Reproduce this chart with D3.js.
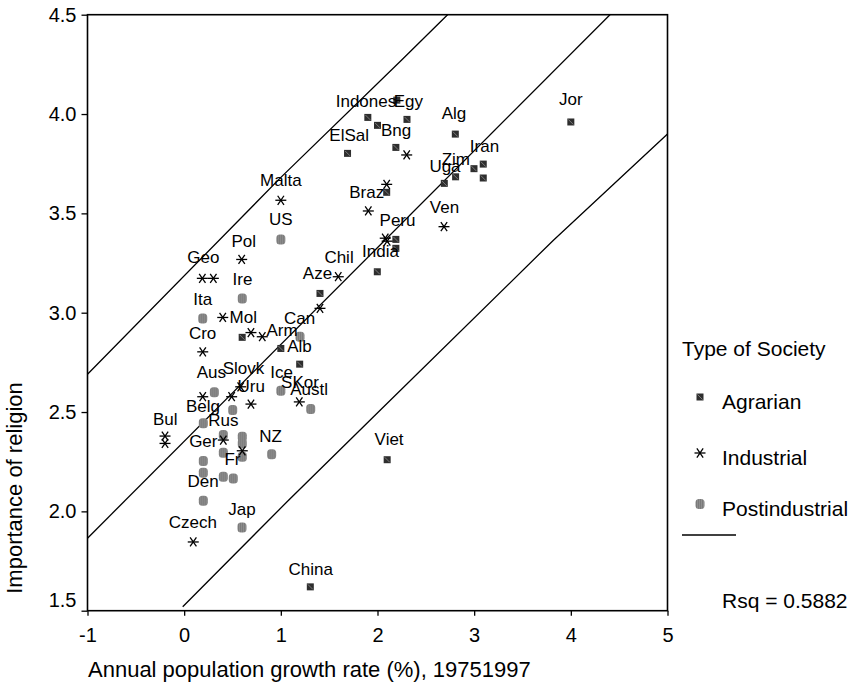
<!DOCTYPE html>
<html>
<head>
<meta charset="utf-8">
<script src="https://cdn.jsdelivr.net/npm/d3@7"></script>
<style>
  body { margin: 0; background: #fff; }
  text { font-family: "Liberation Sans", Arial, Helvetica, sans-serif; fill: #000; }
  .domain { display: none; }
</style>
</head>
<body>
<script>
// scatter of religion vs population growth, with fit line and 95% bands

// data: [growth %, importance]
var agrarian = [
  [1.90, 3.983], [2.00, 3.943], [2.305, 3.973], [2.20, 4.07], [2.19, 3.832],
  [1.69, 3.802], [2.805, 3.899], [3.094, 3.748], [3.094, 3.678], [2.998, 3.725],
  [2.808, 3.684], [2.691, 3.651], [2.095, 3.606], [2.19, 3.369], [2.19, 3.324],
  [4.00, 3.96], [1.405, 3.097], [1.998, 3.206], [0.60, 2.876], [1.00, 2.820],
  [1.195, 2.741], [1.305, 1.62], [2.10, 2.26]
];
var industrial = [
  [2.302, 3.794], [2.095, 3.646], [1.905, 3.512], [2.688, 3.433], [2.10, 3.36],
  [2.08, 3.375], [1.00, 3.566], [0.595, 3.268], [0.188, 3.173], [0.302, 3.173],
  [0.399, 2.976], [0.691, 2.90], [0.808, 2.879], [1.405, 3.022], [1.594, 3.181],
  [0.192, 2.803], [0.585, 2.627], [0.192, 2.577], [0.491, 2.577], [0.691, 2.540],
  [1.191, 2.551], [-0.198, 2.379], [-0.198, 2.342], [0.405, 2.359], [0.601, 2.305],
  [0.094, 1.846]
];
var postindustrial = [
  [1.00, 3.369], [0.601, 3.072], [0.192, 2.971], [1.198, 2.879], [0.312, 2.599],
  [0.502, 2.51], [1.00, 2.607], [1.309, 2.515], [0.198, 2.443], [0.405, 2.384],
  [0.601, 2.375], [0.601, 2.342], [0.601, 2.275], [0.405, 2.295], [0.198, 2.254],
  [0.905, 2.288], [0.198, 2.194], [0.405, 2.174], [0.508, 2.166], [0.198, 2.053],
  [0.598, 1.919]
];

// country labels: [text, x, y of baseline]
var labels = [
  ["Indones", 1.881, 4.037], ["Egy", 2.319, 4.037], ["Bng", 2.193, 3.889],
  ["ElSal", 1.707, 3.864], ["Alg", 2.791, 3.973], ["Iran", 3.107, 3.81],
  ["Zim", 2.81, 3.743], ["Uga", 2.698, 3.71], ["Jor", 4.0, 4.045],
  ["Malta", 1.0, 3.64], ["Braz", 1.888, 3.575], ["Ven", 2.693, 3.503],
  ["Peru", 2.207, 3.438], ["US", 1.0, 3.44], ["Pol", 0.617, 3.332],
  ["India", 2.031, 3.278], ["Chil", 1.602, 3.248], ["Geo", 0.198, 3.248],
  ["Aze", 1.379, 3.169], ["Ire", 0.603, 3.139], ["Ita", 0.193, 3.038],
  ["Mol", 0.612, 2.949], ["Can", 1.195, 2.943], ["Arm", 1.012, 2.882],
  ["Cro", 0.191, 2.866], ["Alb", 1.193, 2.803], ["Aus", 0.281, 2.672],
  ["Slovk", 0.614, 2.689], ["Ice", 1.009, 2.672], ["SKor", 1.198, 2.619],
  ["Uru", 0.693, 2.602], ["Austl", 1.293, 2.585], ["Belg", 0.195, 2.501],
  ["Bul", -0.195, 2.434], ["Rus", 0.405, 2.429], ["NZ", 0.893, 2.35],
  ["Ger", 0.198, 2.322], ["Fr", 0.5, 2.233], ["Viet", 2.12, 2.333],
  ["Den", 0.195, 2.123], ["Jap", 0.598, 1.981], ["Czech", 0.089, 1.914],
  ["China", 1.31, 1.679]
];

// fit line and prediction bands, read as polylines
var fitLine = [[-1, 1.865], [4.405, 4.5]];
var upperBand = [[-1, 2.69], [0.99, 3.676], [2.25, 4.272], [2.725, 4.5]];
var lowerBand = [[-0.015, 1.52], [1.08, 2.056], [2.03, 2.51], [3.82, 3.365], [5, 3.899]];

var xTicks = [-1, 0, 1, 2, 3, 4, 5];
var yTicks = [1.5, 2.0, 2.5, 3.0, 3.5, 4.0, 4.5];
var legendNames = ["Agrarian", "Industrial", "Postindustrial"];
var rsqText = "Rsq = 0.5882";

var width = 858, height = 686;

var svg = d3.select("body").append("svg")
    .attr("width", width)
    .attr("height", height);

var defs = svg.append("defs");
var stripes = defs.append("pattern")
    .attr("id", "stripes")
    .attr("patternUnits", "userSpaceOnUse")
    .attr("width", 2).attr("height", 4);
stripes.append("rect").attr("width", 2).attr("height", 4).attr("fill", "#8e8e8e");
stripes.append("rect").attr("width", 1).attr("height", 4).attr("fill", "#7a7a7a");

var x = d3.scaleLinear().domain([-1, 5]).range([87.5, 667.5]);
var y = d3.scaleLinear().domain([1.5, 4.5]).range([610.7, 14.7]);

var plot = svg.append("g");

// clip so band lines stop at the frame
defs.append("clipPath").attr("id", "clip")
  .append("rect")
    .attr("x", x(-1)).attr("y", y(4.5))
    .attr("width", x(5) - x(-1)).attr("height", y(1.5) - y(4.5));

//axes
var xAxis = svg.append("g")
    .attr("transform", "translate(0," + y(1.5) + ")")
    .call(d3.axisBottom(x).tickValues(xTicks).tickSize(5).tickPadding(12).tickFormat(d3.format("d")));
var yAxis = svg.append("g")
    .attr("transform", "translate(" + x(-1) + ",0)")
    .call(d3.axisLeft(y).tickValues(yTicks).tickSize(6).tickPadding(5).tickFormat(d3.format(".1f")));

svg.selectAll(".tick line").attr("stroke", "#000").attr("stroke-width", 1.3);
svg.selectAll(".tick text").style("font-size", "20px").attr("fill", "#000");
xAxis.selectAll(".tick text").text(function(d){ return d < 0 ? "-" + Math.abs(d) : d; });
// bottom y label sits a bit higher in the original
yAxis.selectAll(".tick text").filter(function(d){ return d === 1.5; }).attr("dy", "-0.2em");

// frame
svg.append("rect")
    .attr("x", x(-1)).attr("y", y(4.5))
    .attr("width", x(5) - x(-1)).attr("height", y(1.5) - y(4.5))
    .attr("fill", "none").attr("stroke", "#000").attr("stroke-width", 1.6);

var line = d3.line()
    .x(function(d){ return x(d[0]); })
    .y(function(d){ return y(d[1]); });

var lineG = plot.append("g").attr("clip-path", "url(#clip)");
[fitLine, upperBand, lowerBand].forEach(function(pts){
    lineG.append("path")
        .datum(pts)
        .attr("d", line)
        .attr("fill", "none")
        .attr("stroke", "#000")
        .attr("stroke-width", 1.3);
});

// markers
function drawSquare(g){
    g.append("rect").attr("x", -3.5).attr("y", -3.5).attr("width", 7).attr("height", 7)
        .attr("fill", "#2e2e2e");
    g.append("line").attr("x1", -2.5).attr("y1", -2.5).attr("x2", 2.5).attr("y2", 2.5)
        .attr("stroke", "#7a7a7a").attr("stroke-width", 1);
}
function drawStar(g){
    var r = 5.5;
    var angles = [0, 55, 125];
    angles.forEach(function(a){
        var rad = a * Math.PI / 180;
        g.append("line")
            .attr("x1", -r * Math.cos(rad)).attr("y1", -r * Math.sin(rad))
            .attr("x2", r * Math.cos(rad)).attr("y2", r * Math.sin(rad))
            .attr("stroke", "#000").attr("stroke-width", 1.3);
    });
}
function drawBlob(g){
    g.append("rect").attr("x", -4.5).attr("y", -5).attr("width", 9).attr("height", 10)
        .attr("rx", 3.5).attr("ry", 3.5)
        .attr("fill", "url(#stripes)");
}

function addSeries(data, drawFn, cls){
    plot.selectAll("." + cls)
        .data(data)
        .enter()
        .append("g")
        .attr("class", cls)
        .attr("transform", function(d){ return "translate(" + x(d[0]) + "," + y(d[1]) + ")"; })
        .each(function(){ drawFn(d3.select(this)); });
}
addSeries(postindustrial, drawBlob, "post");
addSeries(agrarian, drawSquare, "agr");
addSeries(industrial, drawStar, "ind");

// country labels
plot.selectAll(".lab")
    .data(labels)
    .enter()
    .append("text")
    .attr("class", "lab")
    .attr("x", function(d){ return x(d[1]); })
    .attr("y", function(d){ return y(d[2]); })
    .attr("text-anchor", "middle")
    .style("font-size", "17px")
    .text(function(d){ return d[0]; });

// axis titles
svg.append("text")
    .attr("x", 88).attr("y", 677)
    .style("font-size", "22px")
    .text("Annual population growth rate (%), 19751997");
svg.append("text")
    .attr("transform", "translate(22,488) rotate(-90)")
    .attr("text-anchor", "middle")
    .style("font-size", "22px")
    .text("Importance of religion");

// legend
var legend = svg.append("g");
legend.append("text").attr("x", 682).attr("y", 356)
    .style("font-size", "21px").text("Type of Society");
var drawers = [drawSquare, drawStar, drawBlob];
var rowY = [397, 453, 504];
legendNames.forEach(function(name, i){
    var g = legend.append("g").attr("transform", "translate(700," + rowY[i] + ")");
    drawers[i](g);
    legend.append("text").attr("x", 722).attr("y", rowY[i] + 12)
        .style("font-size", "21px").text(name);
});
legend.append("line")
    .attr("x1", 682).attr("x2", 736).attr("y1", 535).attr("y2", 535)
    .attr("stroke", "#000").attr("stroke-width", 1.5);
legend.append("text").attr("x", 722).attr("y", 607.5)
    .style("font-size", "21px").text(rsqText);
</script>
</body>
</html>
